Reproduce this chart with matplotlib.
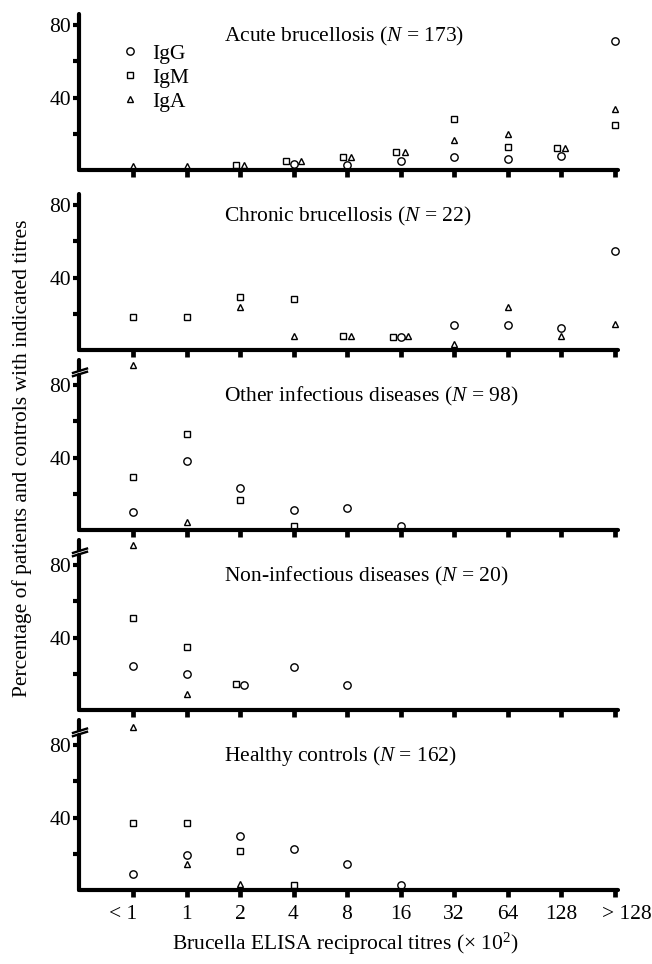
import matplotlib
matplotlib.use("Agg")
import matplotlib.pyplot as plt
import matplotlib.transforms as mtransforms
import numpy as np

plt.rcParams['font.family'] = ['Liberation Serif', 'DejaVu Serif']
plt.rcParams['mathtext.fontset'] = 'custom'
plt.rcParams['mathtext.rm'] = 'Liberation Serif'
plt.rcParams['mathtext.it'] = 'Liberation Serif:italic'

nan = np.nan
categories = ['< 1', '1', '2', '4', '8', '16', '32', '64', '128', '> 128']

titles = [
    'Acute brucellosis ($N$ = 173)',
    'Chronic brucellosis ($N$ = 22)',
    'Other infectious diseases ($N$ = 98)',
    'Non-infectious diseases ($N$ = 20)',
    'Healthy controls ($N$ = 162)',
]

acute_igg = [nan, nan, nan, 3.5, 3, 5, 7.4, 5.9, 7.7, 71]
acute_igm = [nan, nan, 3, 5, 7, 10, 28.4, 12.9, 12.3, 24.9]
acute_iga = [2, 2, 3, 5, 7, 10, 16.6, 19.7, 12, 33.5]

chronic_igg = [nan, nan, nan, nan, nan, 7.2, 14, 14, 12.4, 54.7]
chronic_igm = [18, 18, 29.5, 28, 7.6, 7.2, nan, nan, nan, nan]
chronic_iga = [nan, nan, 24, 7.6, 7.6, 7.6, 3.4, 24, 7.6, 14.3]

other_igg = [9.8, 38, 23, 11.3, 12.2, 2.4, nan, nan, nan, nan]
other_igm = [29.5, 53, 16.6, 2.4, nan, nan, nan, nan, nan, nan]
other_iga = [91, 4.3, nan, nan, nan, nan, nan, nan, nan, nan]

noninf_igg = [24.2, 20, 14, 23.8, 13.7, nan, nan, nan, nan, nan]
noninf_igm = [50.9, 35, 14.3, nan, nan, nan, nan, nan, nan, nan]
noninf_iga = [91, 8.6, nan, nan, nan, nan, nan, nan, nan, nan]

healthy_igg = [8.7, 19.3, 30, 22.9, 14.3, 3, nan, nan, nan, nan]
healthy_igm = [37, 37, 21.4, 3, nan, nan, nan, nan, nan, nan]
healthy_iga = [90, 14.2, 3.5, nan, nan, nan, nan, nan, nan, nan]

panels = [
    (acute_igg, acute_igm, acute_iga),
    (chronic_igg, chronic_igm, chronic_iga),
    (other_igg, other_igm, other_iga),
    (noninf_igg, noninf_igm, noninf_iga),
    (healthy_igg, healthy_igm, healthy_iga),
]
broken = [False, False, True, True, True]


def dodge(igg, igm, iga, thr=3.6):
    """Small horizontal offsets for markers that would overlap."""
    n = len(igg)
    offs = {k: np.zeros(n) for k in ('IgM', 'IgG', 'IgA')}
    for i in range(n):
        vals = [(k, v[i]) for k, v in (('IgM', igm), ('IgG', igg), ('IgA', iga))
                if not np.isnan(v[i])]
        used = set()
        for a in range(len(vals)):
            if a in used:
                continue
            grp = [a]
            changed = True
            while changed:
                changed = False
                for b in range(len(vals)):
                    if b in grp:
                        continue
                    if any(abs(vals[b][1] - vals[g][1]) < thr for g in grp):
                        grp.append(b)
                        changed = True
            grp.sort()
            used.update(grp)
            m = len(grp)
            if m == 2:
                pos = [-0.08, 0.08]
            elif m == 3:
                pos = [-0.14, 0.0, 0.14]
            else:
                pos = [0.0]
            for g, p in zip(grp, pos):
                offs[vals[g][0]][i] = p
    return offs


W, H = 652, 964
fig = plt.figure(figsize=(W / 100, H / 100), dpi=100)

px_per_unit = 1.81
left_px, right_px = 79, 618
cat0_px, cat_step = 133, 53.5
xlim = ((left_px - cat0_px) / cat_step, (right_px - cat0_px) / cat_step)
x = np.arange(len(categories))

fs = 15.5
lw_ax = 3.0
mk = dict(linestyle='none', mfc='none', mec='black', mew=1.0, clip_on=False, zorder=4)

for k, ((igg, igm, iga), br) in enumerate(zip(panels, broken)):
    axis_px = 170 + 180 * k
    ytop = 94 if br else 86
    hpx = ytop * px_per_unit
    ax = fig.add_axes([left_px / W, 1 - axis_px / H, (right_px - left_px) / W, hpx / H])
    ax.set_xlim(*xlim)
    ax.set_ylim(0, ytop)
    ax.patch.set_alpha(0)
    for s in ('top', 'right'):
        ax.spines[s].set_visible(False)
    for s in ('left', 'bottom'):
        ax.spines[s].set_linewidth(lw_ax)
        ax.spines[s].set_capstyle('round')
    if br:
        ax.spines['left'].set_bounds(0, 85.5)
        ax.plot([0, 0], [88.6, ytop], transform=ax.get_yaxis_transform(),
                color='black', lw=lw_ax, clip_on=False, solid_capstyle='round')
        for yb in (86.2, 88.0):
            ax.plot([-6 / 539, 8 / 539], [yb - 1.2, yb + 1.2],
                    transform=ax.get_yaxis_transform(), color='black', lw=1.7,
                    clip_on=False)

    ax.set_yticks([20, 40, 60, 80])
    ax.set_yticklabels(['', '40', '', '80'], fontsize=fs)
    ax.tick_params(axis='y', direction='out', length=4, width=lw_ax, pad=1.5)
    ax.set_xticks(x)
    ax.tick_params(axis='x', direction='out', length=5, width=3.4)
    if k == 4:
        ax.set_xticklabels(categories, fontsize=fs)
        ax.tick_params(axis='x', pad=6)
        labs = ax.get_xticklabels()
        labs[0].set_transform(labs[0].get_transform() +
                              mtransforms.ScaledTranslation(-10 / 100, 0, fig.dpi_scale_trans))
        labs[-1].set_transform(labs[-1].get_transform() +
                               mtransforms.ScaledTranslation(12 / 100, 0, fig.dpi_scale_trans))
    else:
        ax.set_xticklabels([])

    offs = dodge(np.array(igg, float), np.array(igm, float), np.array(iga, float))
    h_g, = ax.plot(x + offs['IgG'], igg, marker='o', ms=5.3, label='IgG', **mk)
    h_m, = ax.plot(x + offs['IgM'], igm, marker='s', ms=4.3, label='IgM', **mk)
    h_a, = ax.plot(x + offs['IgA'], iga, marker='^', ms=4.8, label='IgA', **mk)

    ax.text(1.7, 74, titles[k], fontsize=fs, ha='left', va='center')

    if k == 0:
        ax.legend(handles=[h_g, h_m, h_a], frameon=False, loc='upper left',
                  bbox_to_anchor=(0.074, 0.81), borderpad=0, borderaxespad=0,
                  handlelength=1.0, handletextpad=0.55, labelspacing=0.18,
                  fontsize=fs, numpoints=1)

fig.text(345 / W, 1 - 458 / H, '', fontsize=1)
fig.text(22 / W, 1 - 458 / H, 'Percentage of patients and controls with indicated titres',
         rotation=90, ha='center', va='center', fontsize=fs)
fig.text(345 / W, 1 - 944 / H, 'Brucella ELISA reciprocal titres (× 10$^{2}$)',
         ha='center', va='center', fontsize=fs)

fig.savefig('out.png', dpi=100)
